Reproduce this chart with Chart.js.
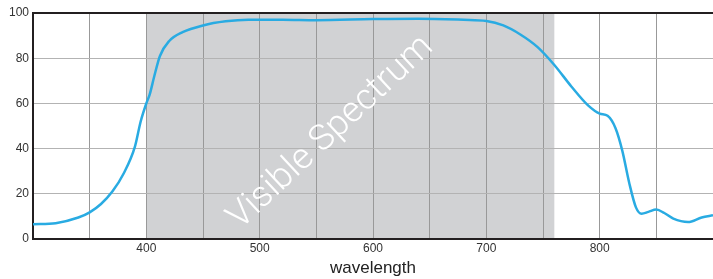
<!DOCTYPE html>
<html>
<head>
<meta charset="utf-8">
<script src="https://cdn.jsdelivr.net/npm/chart.js@4/dist/chart.umd.min.js"></script>
<style>
  html, body { margin: 0; padding: 0; background: #fff; }
  #wrap { width: 713px; height: 279px; }
</style>
</head>
<body>
<div id="wrap"><canvas id="specChart"></canvas></div>
<script>
// wavelength (nm) and transmission (%)
const wavelengths = [300, 320, 340, 350, 360, 370, 380, 390, 395, 400, 403, 407, 412, 420, 432, 450, 470, 490, 520, 550, 600, 640, 680, 700, 715, 730, 745, 760, 775, 790, 800, 807, 814, 820, 826, 832, 837, 843, 850, 857, 865, 878, 890, 900];
const transmission = [6.5, 7, 9.5, 11.8, 15.5, 21, 29, 41, 52, 60, 64, 72, 81, 87.5, 91.5, 94.5, 96.3, 97, 97, 96.8, 97.3, 97.5, 97, 96.5, 94.5, 90.5, 85, 77, 67.5, 59, 55.5, 54.5, 49, 39, 25, 14, 11.2, 12, 13, 11.5, 9, 7.5, 9.5, 10.5];
const xLabels = [400, 500, 600, 700, 800];
const yTicks = [0, 20, 40, 60, 80, 100];
const visibleBand = [400, 760];
const bandLabel = 'Visible Spectrum';

const points = wavelengths.map((w, i) => ({ x: w, y: transmission[i] }));
const tickFont = { family: "'Liberation Sans Narrow', 'Liberation Sans', sans-serif", size: 12 };

// gray band + rotated label
const bandPlugin = {
    id: 'band',
    beforeDraw(chart) {
        const { ctx, chartArea, scales } = chart;
        const x0 = scales.x.getPixelForValue(visibleBand[0]);
        const x1 = scales.x.getPixelForValue(visibleBand[1]);
        ctx.save();
        ctx.fillStyle = '#d1d2d4';
        ctx.fillRect(x0, chartArea.top, x1 - x0, chartArea.bottom - chartArea.top);
        ctx.restore();
    },
    beforeDatasetsDraw(chart) {
        const { ctx, scales } = chart;
        const cx = scales.x.getPixelForValue(563);
        const cy = scales.y.getPixelForValue(47);
        ctx.save();
        ctx.translate(cx, cy);
        ctx.rotate(-43 * Math.PI / 180);
        ctx.font = "300 36px Roboto, 'Open Sans', sans-serif";
        ctx.fillStyle = '#ffffff';
        ctx.textAlign = 'center';
        ctx.textBaseline = 'middle';
        ctx.fillText(bandLabel, 0, 0);
        ctx.restore();
    },
    afterDraw(chart) {
        const { ctx, chartArea } = chart;
        ctx.save();
        ctx.strokeStyle = '#231f20';
        ctx.lineWidth = 2;
        ctx.beginPath();
        ctx.moveTo(chartArea.left, chartArea.top);
        ctx.lineTo(chartArea.right, chartArea.top);
        ctx.stroke();
        ctx.restore();
    }
};

new Chart(document.getElementById('specChart'), {
    type: 'line',
    data: {
        datasets: [{
            data: points,
            borderColor: '#29abe2',
            borderWidth: 2.5,
            pointRadius: 0,
            fill: false,
            cubicInterpolationMode: 'monotone'
        }]
    },
    options: {
        responsive: true,
        maintainAspectRatio: false,
        animation: false,
        layout: { padding: { top: 13, right: 0, left: 0, bottom: 0 } },
        plugins: { legend: { display: false }, tooltip: { enabled: false } },
        scales: {
            x: {
                type: 'linear',
                min: 300,
                max: 900,
                afterBuildTicks(scale) {
                    const t = [];
                    for (let v = 300; v <= 900; v += 50) t.push({ value: v });
                    scale.ticks = t;
                },
                ticks: {
                    autoSkip: false,
                    maxRotation: 0,
                    color: '#333',
                    font: tickFont,
                    padding: 2,
                    callback: v => xLabels.includes(v) ? String(v) : ''
                },
                grid: {
                    color: c => (c.tick && (c.tick.value === 300 || c.tick.value === 900)) ? 'rgba(0,0,0,0)' : '#999',
                    lineWidth: 1,
                    drawTicks: false
                },
                border: { color: '#231f20', width: 2 },
                title: {
                    display: true,
                    text: 'wavelength',
                    color: '#222',
                    font: { family: tickFont.family, size: 17 },
                    padding: { top: 0, bottom: 0 }
                },
                afterFit(scale) {
                    scale.height = 40;
                    scale.paddingRight = 0;
                    scale.paddingLeft = 0;
                }
            },
            y: {
                min: 0,
                max: 100,
                afterBuildTicks(scale) {
                    scale.ticks = yTicks.map(v => ({ value: v }));
                },
                ticks: { color: '#333', font: tickFont, padding: 4 },
                grid: {
                    color: c => (c.tick && c.tick.value === 100) ? 'rgba(0,0,0,0)' : '#b3b3b3',
                    lineWidth: 1,
                    drawTicks: false
                },
                border: { color: '#231f20', width: 2 },
                afterFit(scale) { scale.width = 33; }
            }
        }
    },
    plugins: [bandPlugin]
});
</script>
</body>
</html>
